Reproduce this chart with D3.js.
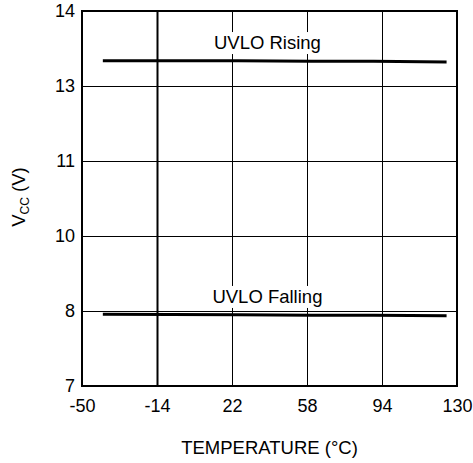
<!DOCTYPE html>
<html>
<head>
<meta charset="utf-8">
<script src="https://d3js.org/d3.v7.min.js"></script>
<style>
  body { margin: 0; background: #fff; }
  text { font-family: "Liberation Sans", Arial, sans-serif; fill: #000; }
</style>
</head>
<body>
<div id="chart"></div>
<script>
// data
var xTicks = [-50, -14, 22, 58, 94, 130];
var yTicks = [7, 8.4, 9.8, 11.2, 12.6, 14];
var yTickLabels = ["7", "8", "10", "11", "13", "14"];

var tempRising = [-40, 25, 60, 90, 125];
var uvloRising = [13.07, 13.07, 13.06, 13.06, 13.05];
var tempFalling = [-40, 25, 60, 90, 125];
var uvloFalling = [8.34, 8.33, 8.32, 8.32, 8.31];

var W = 473, H = 463;
var margin = { top: 11, right: 16, bottom: 77, left: 82 };
var width = W - margin.left - margin.right,
    height = H - margin.top - margin.bottom;

var svg = d3.select("#chart").append("svg")
    .attr("width", W).attr("height", H);
var g = svg.append("g")
    .attr("transform", "translate(" + margin.left + "," + margin.top + ")");

var x = d3.scaleLinear().domain([-50, 130]).range([0, width]);
var y = d3.scaleLinear().domain([7, 14]).range([height, 0]);

// grid
g.selectAll(".vgrid").data(xTicks.slice(1, -1)).enter().append("line")
    .attr("x1", function (d) { return Math.round(x(d)) + 0.5; })
    .attr("x2", function (d) { return Math.round(x(d)) + 0.5; })
    .attr("y1", 0).attr("y2", height)
    .attr("stroke", "#000")
    .attr("stroke-width", function (d) { return d === -14 ? 2 : 1; });
g.selectAll(".hgrid").data(yTicks.slice(1, -1)).enter().append("line")
    .attr("x1", 0).attr("x2", width)
    .attr("y1", function (d) { return Math.round(y(d)) + 0.5; })
    .attr("y2", function (d) { return Math.round(y(d)) + 0.5; })
    .attr("stroke", "#000").attr("stroke-width", 1);

// axes
var xAxis = g.append("g")
    .attr("transform", "translate(0," + height + ")")
    .call(d3.axisBottom(x).tickValues(xTicks).tickSize(0).tickPadding(13)
        .tickFormat(function (d) { return String(d); }));
var yAxis = g.append("g")
    .call(d3.axisLeft(y).tickValues(yTicks).tickSize(0).tickPadding(7)
        .tickFormat(function (d, i) { return yTickLabels[i]; }));
[xAxis, yAxis].forEach(function (a) {
    a.select(".domain").remove();
    a.selectAll("text").attr("font-size", 18).attr("font-family", "Liberation Sans, Arial, sans-serif");
});

// frame
g.append("rect").attr("x", 0).attr("y", 0)
    .attr("width", width).attr("height", height)
    .attr("fill", "none").attr("stroke", "#000").attr("stroke-width", 2);

// series
var line = d3.line().x(function (d) { return x(d[0]); }).y(function (d) { return y(d[1]); });
g.append("path").datum(d3.zip(tempRising, uvloRising))
    .attr("d", line).attr("fill", "none").attr("stroke", "#000").attr("stroke-width", 3);
g.append("path").datum(d3.zip(tempFalling, uvloFalling))
    .attr("d", line).attr("fill", "none").attr("stroke", "#000").attr("stroke-width", 3);

// series labels with white boxes
function label(txt, xv, yv) {
    var t = g.append("text").attr("x", x(xv)).attr("y", y(yv))
        .attr("text-anchor", "middle").attr("font-size", 18.5).text(txt);
    var b = t.node().getBBox();
    g.insert("rect", function () { return t.node(); })
        .attr("x", b.x - 3).attr("y", b.y).attr("width", b.width + 6).attr("height", b.height + 1)
        .attr("fill", "#fff");
}
label("UVLO Rising", 39, 13.29);
label("UVLO Falling", 39, 8.55);

// axis titles
svg.append("text").attr("x", margin.left + width / 2).attr("y", 454)
    .attr("text-anchor", "middle").attr("font-size", 18.5).text("TEMPERATURE (°C)");
var yl = svg.append("text").attr("transform", "translate(25,197) rotate(-90)")
    .attr("text-anchor", "middle").attr("font-size", 18.5);
yl.append("tspan").text("V");
yl.append("tspan").attr("font-size", 12).attr("dy", 4).text("CC");
yl.append("tspan").attr("dy", -4).text(" (V)");
</script>
</body>
</html>
